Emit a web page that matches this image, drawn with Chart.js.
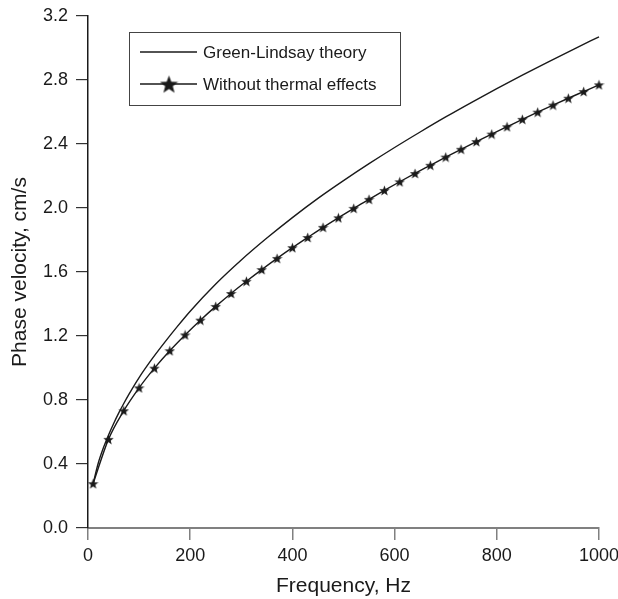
<!DOCTYPE html>
<html>
<head>
<meta charset="utf-8">
<script src="https://cdn.jsdelivr.net/npm/chart.js@4/dist/chart.umd.min.js"></script>
<style>
  html, body { margin: 0; padding: 0; background: #fff; }
  #wrap { width: 618px; height: 599px; }
</style>
</head>
<body>
<div id="wrap"><canvas id="chart" width="618" height="599"></canvas></div>
<script>
// Values.
const greenFreq = [10, 20, 30, 40, 50, 60, 70, 80, 100, 125, 150, 175, 200, 250, 300, 350, 400, 450, 500, 550, 600, 650, 700, 750, 800, 850, 900, 950, 1000];
const greenVel = [0.277, 0.405, 0.50, 0.58, 0.652, 0.718, 0.778, 0.835, 0.94, 1.055, 1.16, 1.26, 1.355, 1.525, 1.675, 1.812, 1.94, 2.06, 2.171, 2.277, 2.378, 2.475, 2.569, 2.659, 2.746, 2.83, 2.912, 2.992, 3.07];

const starFreq = [10, 40, 70, 100, 130, 160, 190, 220, 250, 280, 310, 340, 370, 400, 430, 460, 490, 520, 550, 580, 610, 640, 670, 700, 730, 760, 790, 820, 850, 880, 910, 940, 970, 1000];
const starVel = [0.277, 0.554, 0.733, 0.876, 0.999, 1.108, 1.207, 1.299, 1.385, 1.466, 1.542, 1.615, 1.685, 1.752, 1.816, 1.879, 1.939, 1.998, 2.054, 2.110, 2.164, 2.216, 2.267, 2.318, 2.367, 2.415, 2.462, 2.508, 2.554, 2.599, 2.643, 2.686, 2.728, 2.770];

const seriesNames = ['Green-Lindsay theory', 'Without thermal effects'];
const xTicks = [0, 200, 400, 600, 800, 1000];
const yTicks = [0.0, 0.4, 0.8, 1.2, 1.6, 2.0, 2.4, 2.8, 3.2];

const INK = '#1a1a1a';
const FONT = '"Liberation Sans", Arial, Helvetica, sans-serif';

function makeStar(size) {
  const c = document.createElement('canvas');
  c.width = size; c.height = size;
  const g = c.getContext('2d');
  const cx = size / 2, cy = size / 2 + size * 0.05;
  const ro = size / 2, ri = ro * 0.42;
  g.beginPath();
  for (let i = 0; i < 10; i++) {
    const r = i % 2 ? ri : ro;
    const a = -Math.PI / 2 + i * Math.PI / 5;
    g.lineTo(cx + r * Math.cos(a), cy + r * Math.sin(a));
  }
  g.closePath();
  g.fillStyle = INK;
  g.fill();
  return c;
}

const pointStar = makeStar(11);
const legendStar = makeStar(19);

const boxLegend = {
  id: 'boxLegend',
  afterDraw(chart) {
    const ctx = chart.ctx;
    ctx.save();
    ctx.strokeStyle = '#444';
    ctx.lineWidth = 1;
    ctx.strokeRect(129.5, 32.5, 271, 73);
    ctx.strokeStyle = INK;
    ctx.lineWidth = 1.3;
    const rows = [52, 84];
    rows.forEach((y) => {
      ctx.beginPath();
      ctx.moveTo(140, y);
      ctx.lineTo(197, y);
      ctx.stroke();
    });
    ctx.drawImage(legendStar, 169 - legendStar.width / 2, rows[1] - legendStar.height / 2);
    ctx.fillStyle = INK;
    ctx.font = '17px ' + FONT;
    ctx.textBaseline = 'middle';
    ctx.fillText(seriesNames[0], 203, rows[0] + 1);
    ctx.fillText(seriesNames[1], 203, rows[1] + 1);
    ctx.restore();
  },
};

new Chart(document.getElementById('chart'), {
  type: 'line',
  data: {
    datasets: [
      {
        label: seriesNames[0],
        data: greenFreq.map((f, i) => ({ x: f, y: greenVel[i] })),
        borderColor: INK,
        borderWidth: 1.4,
        pointRadius: 0,
        cubicInterpolationMode: 'monotone',
        clip: false,
      },
      {
        label: seriesNames[1],
        data: starFreq.map((f, i) => ({ x: f, y: starVel[i] })),
        borderColor: INK,
        borderWidth: 1.4,
        pointStyle: pointStar,
        cubicInterpolationMode: 'monotone',
        clip: false,
      },
    ],
  },
  options: {
    responsive: false,
    animation: false,
    devicePixelRatio: 1,
    layout: { padding: { top: 16, right: 19, left: 0, bottom: 0 } },
    plugins: { legend: { display: false }, tooltip: { enabled: false } },
    scales: {
      x: {
        type: 'linear',
        min: 0,
        max: 1000,
        afterFit: (s) => { s.height = 71; s.paddingLeft = 0; s.paddingRight = 0; },
        afterBuildTicks: (s) => { s.ticks = xTicks.map((v) => ({ value: v })); },
        ticks: { color: INK, font: { family: FONT, size: 18 }, padding: 5, maxRotation: 0, callback: (v) => String(v) },
        grid: { drawOnChartArea: false, drawTicks: true, tickLength: 12, tickColor: '#808080', lineWidth: 1.5 },
        border: { color: '#808080', width: 2 },
        title: { display: true, text: 'Frequency, Hz', color: INK, font: { family: FONT, size: 21 }, padding: { top: 2, bottom: 0 } },
      },
      y: {
        type: 'linear',
        min: 0,
        max: 3.2,
        afterFit: (s) => { s.width = 88; s.paddingTop = 0; s.paddingBottom = 0; },
        afterBuildTicks: (s) => { s.ticks = yTicks.map((v) => ({ value: v })); },
        ticks: { color: INK, font: { family: FONT, size: 18 }, padding: 8, callback: (v) => Number(v).toFixed(1) },
        grid: { drawOnChartArea: false, drawTicks: true, tickLength: 12, tickColor: '#333', lineWidth: 1.2 },
        border: { color: INK, width: 1.5 },
        title: { display: true, text: 'Phase velocity, cm/s', color: INK, font: { family: FONT, size: 21 }, padding: { top: 8, bottom: 0 } },
      },
    },
  },
  plugins: [boxLegend],
});
</script>
</body>
</html>
